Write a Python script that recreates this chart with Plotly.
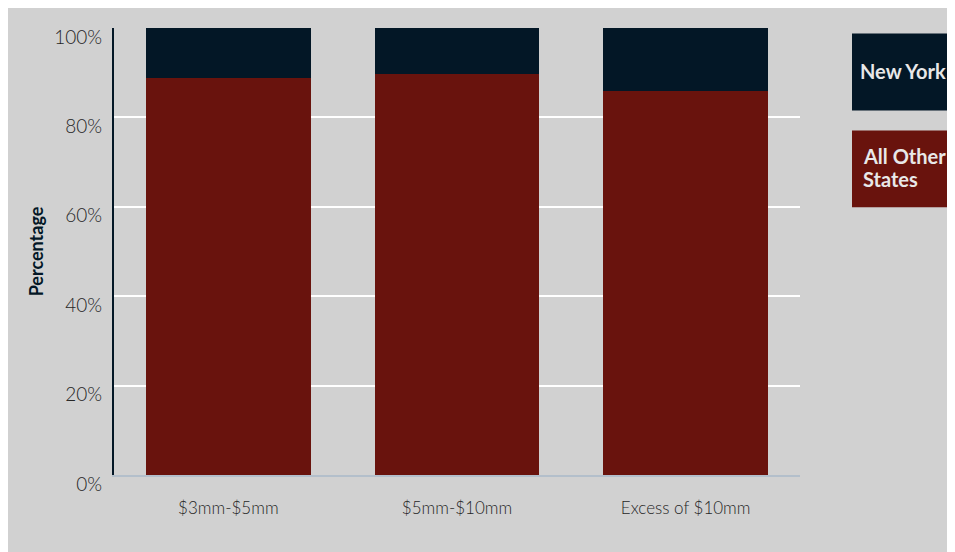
import plotly.graph_objects as go

# bucket labels and state split (percent of total)
categories = ["$3mm-$5mm", "$5mm-$10mm", "Excess of $10mm"]
other_states = [88.9, 89.8, 85.8]
new_york = [11.1, 10.2, 14.2]
series_names = ["New York", "All Other States"]
legend_lines = [["New York"], ["All Other", "States"]]
y_ticks = [0, 20, 40, 60, 80, 100]
y_labels = ["0%", "20%", "40%", "60%", "80%", "100%"]
grid_ticks = [20, 40, 60, 80]

NAVY = "#031726"
RED = "#69130d"
GRAY = "#d1d1d1"
TXT = "#262626"
LEG_TXT = "#e8e8e8"

# page body adds an 8px offset, so the figure is sized to fill the rest of the window
W, H = 947, 544
ML, MR, MT, MB = 106, 155, 19.5, 77
PW, PH = W - ML - MR, H - MT - MB
OFF = 8


def px_x(p):
    return (p - OFF - ML) / PW


def px_y(p):
    return (H - MB - (p - OFF)) / PH


fig = go.Figure()
fig.add_trace(go.Bar(x=categories, y=other_states, name=series_names[1],
                     marker=dict(color=RED, line=dict(width=0)), showlegend=False))
fig.add_trace(go.Bar(x=categories, y=new_york, name=series_names[0],
                     marker=dict(color=NAVY, line=dict(width=0)), showlegend=False))

# legend boxes: coloured rect + label lines
legend_boxes = [(NAVY, 33, "center"), (RED, 130, "left")]
line_centres = [[70.5], [156, 179]]
for (col, top, al), lines, ys in zip(legend_boxes, legend_lines, line_centres):
    fig.add_shape(type="rect", xref="paper", yref="paper",
                  x0=px_x(852), x1=px_x(954), y0=px_y(top + 77), y1=px_y(top),
                  fillcolor=col, line=dict(width=0))
    for txt, yc in zip(lines, ys):
        fig.add_annotation(
            xref="paper", yref="paper",
            x=px_x(903) if al == "center" else px_x(861), y=px_y(yc),
            xanchor=al, yanchor="middle", showarrow=False,
            text="<b>%s</b>" % txt,
            font=dict(family="Lato", size=20, color=LEG_TXT),
        )

fig.update_layout(
    width=W, height=H, autosize=False,
    margin=dict(l=ML, r=MR, t=MT, b=MB, pad=0),
    paper_bgcolor=GRAY, plot_bgcolor=GRAY,
    barmode="stack", bargap=0.28,
    font=dict(family="Lato", color=TXT),
    xaxis=dict(
        showline=True, linecolor="#b3bfcb", linewidth=2,
        ticks="", showgrid=False, ticklabelstandoff=17,
        tickfont=dict(family="Lato", size=17, color=TXT, weight=300),
    ),
    yaxis=dict(
        range=[0, 100], tickmode="array", tickvals=y_ticks, ticktext=y_labels,
        showgrid=False, zeroline=False, automargin=False,
        showline=True, linecolor=NAVY, linewidth=2,
        ticklabelstandoff=6, ticklabelshift=9,
        tickfont=dict(family="Lato", size=19, color=TXT, weight=300),
        minor=dict(tickvals=grid_ticks, showgrid=True, gridcolor="white", gridwidth=2),
        title=dict(text="<b>Percentage</b>", standoff=6,
                   font=dict(family="Lato", size=18, color=NAVY)),
    ),
)

fig.write_html("out.html")
